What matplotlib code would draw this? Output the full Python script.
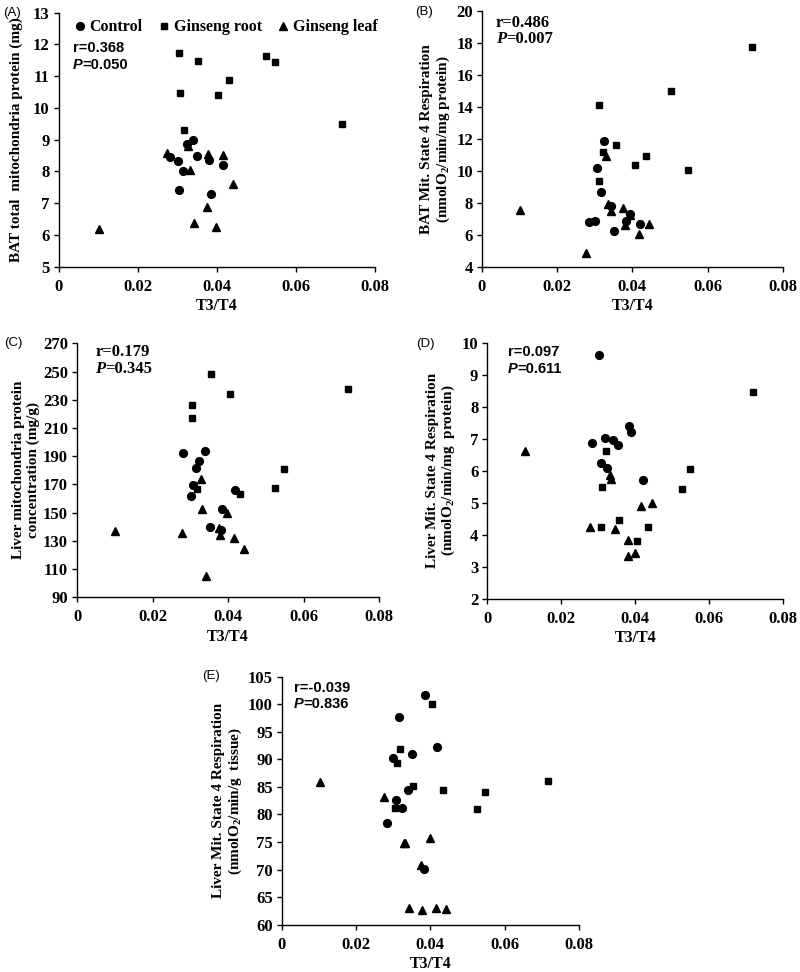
import matplotlib
matplotlib.use("Agg")
import matplotlib.pyplot as plt
from matplotlib.ticker import FixedLocator

# ---------------- data ----------------
x_ticks = [0, 0.02, 0.04, 0.06, 0.08]
x_tick_labels = ["0", "0.02", "0.04", "0.06", "0.08"]
groups = ["Control", "Ginseng root", "Ginseng leaf"]

# Panel A: BAT total mitochondria protein (mg)
A_ctrl_x = [0.0339, 0.0326, 0.0351, 0.0282, 0.0301, 0.0381, 0.0417, 0.0315, 0.0305, 0.0385]
A_ctrl_y = [8.98, 8.85, 8.49, 8.45, 8.34, 8.36, 8.21, 8.02, 7.42, 7.30]
A_root_x = [0.0305, 0.0353, 0.0432, 0.0308, 0.0403, 0.0318, 0.0525, 0.0547, 0.0716]
A_root_y = [11.72, 11.49, 10.88, 10.46, 10.41, 9.30, 11.64, 11.44, 9.50]
A_leaf_x = [0.0275, 0.0327, 0.0377, 0.0416, 0.0333, 0.0442, 0.0375, 0.0342, 0.0397, 0.0101]
A_leaf_y = [8.59, 8.80, 8.55, 8.52, 8.05, 7.60, 6.87, 6.39, 6.24, 6.20]

# Panel B: BAT Mit. State 4 respiration
B_ctrl_x = [0.0325, 0.0307, 0.0317, 0.0285, 0.0301, 0.0351, 0.0420, 0.0342, 0.0383, 0.0394]
B_ctrl_y = [11.85, 10.19, 8.67, 6.80, 6.88, 6.21, 6.69, 7.80, 6.86, 7.30]
B_root_x = [0.0310, 0.0357, 0.0321, 0.0406, 0.0435, 0.0311, 0.0502, 0.0549, 0.0719]
B_root_y = [14.10, 11.60, 11.18, 10.38, 10.93, 9.36, 15.00, 10.05, 17.75]
B_leaf_x = [0.0330, 0.0334, 0.0342, 0.0376, 0.0394, 0.0380, 0.0417, 0.0445, 0.0277, 0.0102]
B_leaf_y = [10.93, 7.92, 7.48, 7.65, 7.24, 6.61, 6.03, 6.67, 4.88, 7.57]

# Panel C: Liver mitochondria protein concentration (mg/g)
C_ctrl_x = [0.0282, 0.0339, 0.0324, 0.0315, 0.0306, 0.0301, 0.0418, 0.0385, 0.0352, 0.0381]
C_ctrl_y = [192.0, 193.5, 186.6, 181.4, 169.4, 161.8, 166.0, 152.4, 140.0, 137.7]
C_root_x = [0.0319, 0.0432, 0.0305, 0.0305, 0.0355, 0.0404, 0.0718, 0.0548, 0.0525]
C_root_y = [166.5, 163.0, 226.0, 217.0, 248.2, 234.3, 237.4, 181.1, 167.5]
C_leaf_x = [0.0328, 0.0330, 0.0398, 0.0277, 0.0377, 0.0379, 0.0417, 0.0442, 0.0342, 0.0101]
C_leaf_y = [173.6, 152.4, 149.5, 135.8, 138.9, 134.1, 132.2, 124.0, 105.1, 137.2]

# Panel D: Liver Mit. State 4 respiration (per mg protein)
D_ctrl_x = [0.0303, 0.0384, 0.0388, 0.0284, 0.0317, 0.0341, 0.0354, 0.0306, 0.0324, 0.0420]
D_ctrl_y = [9.61, 7.40, 7.21, 6.86, 7.02, 6.95, 6.80, 6.23, 6.08, 5.70]
D_root_x = [0.0321, 0.0310, 0.0356, 0.0306, 0.0435, 0.0405, 0.0717, 0.0549, 0.0526]
D_root_y = [6.61, 5.49, 4.46, 4.23, 4.23, 3.80, 8.47, 6.05, 5.43]
D_leaf_x = [0.0332, 0.0333, 0.0415, 0.0445, 0.0278, 0.0344, 0.0379, 0.0379, 0.0400, 0.0102]
D_leaf_y = [5.86, 5.73, 4.91, 5.00, 4.23, 4.17, 3.83, 3.33, 3.42, 6.62]

# Panel E: Liver Mit. State 4 respiration (per g tissue)
E_ctrl_x = [0.0386, 0.0316, 0.0418, 0.0351, 0.0300, 0.0339, 0.0307, 0.0324, 0.0283, 0.0382]
E_ctrl_y = [101.7, 97.7, 92.3, 91.0, 90.3, 84.5, 82.6, 81.1, 78.4, 70.1]
E_root_x = [0.0404, 0.0319, 0.0309, 0.0354, 0.0433, 0.0305, 0.0716, 0.0547, 0.0525]
E_root_y = [100.05, 91.83, 89.34, 85.17, 84.5, 81.23, 86.13, 84.0, 81.06]
E_leaf_x = [0.0275, 0.0329, 0.0332, 0.0398, 0.0375, 0.0342, 0.0378, 0.0415, 0.0443, 0.0102]
E_leaf_y = [83.1, 74.77, 74.9, 75.79, 70.78, 63.03, 62.67, 63.09, 62.9, 85.9]

stats = {
    "A": ("r=0.368", "0.050"),
    "B": ("r=0.486", "0.007"),
    "C": ("r=0.179", "0.345"),
    "D": ("r=0.097", "0.611"),
    "E": ("r=-0.039", "0.836"),
}

# ---------------- style ----------------
plt.rcParams["font.family"] = ["Liberation Serif", "DejaVu Serif"]
plt.rcParams["mathtext.fontset"] = "custom"
plt.rcParams["mathtext.rm"] = "Liberation Serif:bold"
plt.rcParams["mathtext.bf"] = "Liberation Serif:bold"
plt.rcParams["mathtext.it"] = "Liberation Serif:italic:bold"

W, H = 800, 972
fig = plt.figure(figsize=(W / 100, H / 100), dpi=100)


def px_axes(left, right, top, bottom):
    return fig.add_axes([left / W, 1 - bottom / H, (right - left) / W, (bottom - top) / H])


def style(ax, ylim, yticks, ylabel, ylabelpad):
    ax.set_xlim(0, 0.08)
    ax.set_ylim(*ylim)
    ax.xaxis.set_major_locator(FixedLocator(x_ticks))
    ax.set_xticklabels(x_tick_labels)
    ax.set_yticks(yticks)
    ax.set_yticklabels([str(t) for t in yticks])
    for s in ["top", "right"]:
        ax.spines[s].set_visible(False)
    for s in ["left", "bottom"]:
        ax.spines[s].set_linewidth(1.0)
    ax.tick_params(direction="out", length=3.5, width=1.0, labelsize=12)
    ax.tick_params(axis="x", pad=5)
    ax.tick_params(axis="y", pad=3)
    for lab in ax.get_xticklabels() + ax.get_yticklabels():
        lab.set_fontweight("bold")
    ax.set_xlabel("T3/T4", fontsize=11.5, fontweight="bold", labelpad=2.5)
    ax.set_ylabel(ylabel, fontsize=11, fontweight="bold", linespacing=1.1, labelpad=ylabelpad)


def scatter(ax, cx, cy, rx, ry, lx, ly):
    h1, = ax.plot(cx, cy, "o", color="black", ms=5.6, ls="none", label=groups[0])
    h2, = ax.plot(rx, ry, "s", color="black", ms=4.3, ls="none", label=groups[1])
    h3, = ax.plot(lx, ly, "^", color="black", ms=6.3, ls="none", label=groups[2])
    return [h1, h2, h3]


def stat_text(ax, key, x, y, sans):
    r, p = stats[key]
    fam = ["Liberation Sans"] if sans else ["Liberation Serif"]
    fs = 10.5 if sans else 12
    ax.text(x, y, r, transform=ax.transAxes, fontsize=fs, fontweight="bold",
            family=fam, va="center", ha="left")
    t = ax.text(x, y - 0.066, "P", transform=ax.transAxes, fontsize=fs,
                fontweight="bold", fontstyle="italic", family=fam, va="center", ha="left")
    ax.annotate("=" + p, xy=(1, 0.5), xycoords=t, xytext=(0, 0), textcoords="offset points",
                fontsize=fs, fontweight="bold", family=fam, va="center", ha="left")


# Panel A
axA = px_axes(58.7, 374.7, 12.7, 266.7)
hs = scatter(axA, A_ctrl_x, A_ctrl_y, A_root_x, A_root_y, A_leaf_x, A_leaf_y)
style(axA, (5, 13), list(range(5, 14)), "BAT total  mitochondria protein (mg)", 7)
leg = axA.legend(handles=hs, loc="center left", bbox_to_anchor=(0.052, 0.943), ncol=3,
                 frameon=False, handlelength=0.6, handletextpad=0.3, columnspacing=1.05,
                 prop={"family": "Liberation Serif", "weight": "bold", "size": 11.5},
                 borderaxespad=0, borderpad=0)
stat_text(axA, "A", 0.045, 0.86, True)

# Panel B
axB = px_axes(482, 782.7, 11, 266.7)
scatter(axB, B_ctrl_x, B_ctrl_y, B_root_x, B_root_y, B_leaf_x, B_leaf_y)
style(axB, (4, 20), list(range(4, 21, 2)),
      "BAT Mit. State 4 Respiration\n(nmolO$_{\\mathbf{2}}$/min/mg protein)", 3)
stat_text(axB, "B", 0.045, 0.955, False)

# Panel C
axC = px_axes(77, 379, 343.3, 597.3)
scatter(axC, C_ctrl_x, C_ctrl_y, C_root_x, C_root_y, C_leaf_x, C_leaf_y)
style(axC, (90, 270), list(range(90, 271, 20)),
      "Liver mitochondria protein\nconcentration (mg/g)", 2.5)
stat_text(axC, "C", 0.06, 0.965, False)

# Panel D
axD = px_axes(487.3, 783.3, 342.7, 598.7)
scatter(axD, D_ctrl_x, D_ctrl_y, D_root_x, D_root_y, D_leaf_x, D_leaf_y)
style(axD, (2, 10), list(range(2, 11)),
      "Liver Mit. State 4 Respiration\n(nmolO$_{\\mathbf{2}}$/min/mg  protein)", 3)
stat_text(axD, "D", 0.07, 0.965, True)

# Panel E
axE = px_axes(282, 578.7, 676.7, 924.7)
scatter(axE, E_ctrl_x, E_ctrl_y, E_root_x, E_root_y, E_leaf_x, E_leaf_y)
style(axE, (60, 105), list(range(60, 106, 5)),
      "Liver Mit. State 4 Respiration\n(nmolO$_{\\mathbf{2}}$/min/g  tissue)", 3)
stat_text(axE, "E", 0.04, 0.955, True)

# Panel letters
for lab, (x, y) in {"(A)": (3, 13), "(B)": (415, 12), "(C)": (4, 343),
                    "(D)": (416, 344), "(E)": (202, 676)}.items():
    fig.text(x / W, 1 - y / H, lab, fontsize=9.5, family="Liberation Sans",
             va="center", ha="left")

fig.savefig("out.png", dpi=100)
